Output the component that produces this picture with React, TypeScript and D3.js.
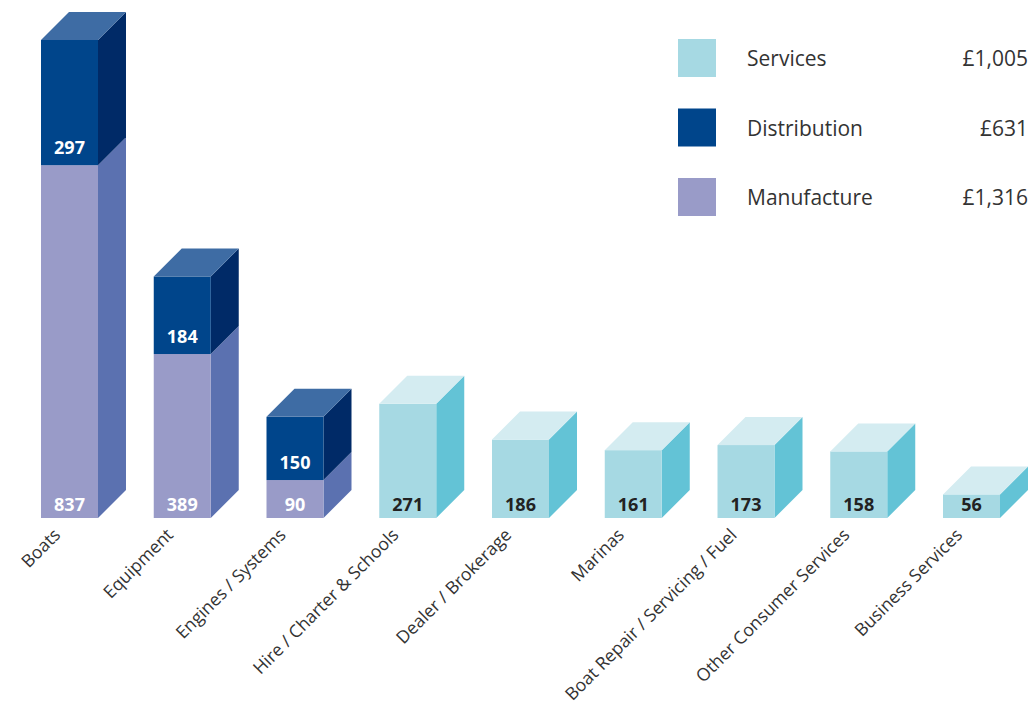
import React, { useEffect, useRef } from 'react';
import * as d3 from 'd3';

const categories = [
    'Boats',
    'Equipment',
    'Engines / Systems',
    'Hire / Charter & Schools',
    'Dealer / Brokerage',
    'Marinas',
    'Boat Repair / Servicing / Fuel',
    'Other Consumer Services',
    'Business Services',
];
const manufacture = [837, 389, 90, 0, 0, 0, 0, 0, 0];
const distribution = [297, 184, 150, 0, 0, 0, 0, 0, 0];
const services = [0, 0, 0, 271, 186, 161, 173, 158, 56];

const seriesKeys = ['manufacture', 'distribution', 'services'];
const legendOrder = ['services', 'distribution', 'manufacture'];
const legendNames: Record<string, string> = {
    services: 'Services',
    distribution: 'Distribution',
    manufacture: 'Manufacture',
};

const palette: Record<string, { front: string; side: string; top: string; text: string }> = {
    manufacture: { front: '#999bc8', side: '#5b71b0', top: '#8d94c4', text: '#ffffff' },
    distribution: { front: '#00458b', side: '#002a67', top: '#3e6ca4', text: '#ffffff' },
    services: { front: '#a6d9e3', side: '#63c3d6', top: '#d4ecf1', text: '#222222' },
};

const FONT = '"Open Sans", "Noto Sans", sans-serif';

export default function App() {
    const ref = useRef<SVGSVGElement>(null);
    const width = 1031;
    const height = 705;
    const depth = 28;

    useEffect(() => {
        document.body.style.margin = '0';
        drawChart();
        //eslint-disable-next-line
    }, []);

    const drawChart = () => {
        const rows = categories.map((c, i) => ({
            category: c,
            manufacture: manufacture[i],
            distribution: distribution[i],
            services: services[i],
        }));

        const stacked = d3.stack<any>().keys(seriesKeys)(rows);

        const x = d3.scaleBand().domain(categories).range([41, 1000]).paddingInner(0.4945).paddingOuter(0);
        const totals = rows.map(r => r.manufacture + r.distribution + r.services);
        const y = d3.scaleLinear().domain([0, d3.max(totals) as number]).range([518, 40]);

        const svg = d3.select(ref.current);
        svg.selectAll('*').remove();

        const g = svg.append('g');

        categories.forEach((cat, i) => {
            const x0 = x(cat) as number;
            const x1 = x0 + x.bandwidth();
            // top-most non-empty series for this bar
            let topKey = '';
            stacked.forEach(s => {
                if (s[i][1] - s[i][0] > 0) topKey = s.key;
            });
            stacked.forEach(s => {
                const v = s[i][1] - s[i][0];
                if (v <= 0) return;
                const col = palette[s.key];
                const yb = y(s[i][0]);
                const yt = y(s[i][1]);

                // side face
                g.append('path')
                    .attr('d', `M${x1},${yb}L${x1 + depth},${yb - depth}L${x1 + depth},${yt - depth}L${x1},${yt}Z`)
                    .attr('fill', col.side);

                // front face
                g.append('rect')
                    .attr('x', x0)
                    .attr('y', yt)
                    .attr('width', x1 - x0)
                    .attr('height', yb - yt)
                    .attr('fill', col.front);

                // top face
                if (s.key === topKey) {
                    g.append('path')
                        .attr('d', `M${x0},${yt}L${x0 + depth},${yt - depth}L${x1 + depth},${yt - depth}L${x1},${yt}Z`)
                        .attr('fill', col.top);
                }

                // value label
                g.append('text')
                    .attr('x', (x0 + x1) / 2)
                    .attr('y', yb - (s[i][0] > 0 ? 11 : 7))
                    .attr('text-anchor', 'middle')
                    .attr('font-family', FONT)
                    .attr('font-weight', 700)
                    .attr('font-size', 18)
                    .attr('fill', col.text)
                    .text(v);
            });

            // category label
            const lx = (x0 + x1) / 2 - 8;
            const ly = 536;
            g.append('text')
                .attr('transform', `translate(${lx},${ly}) rotate(-45)`)
                .attr('text-anchor', 'end')
                .attr('font-family', FONT)
                .attr('font-size', 17.6)
                .attr('fill', '#333333')
                .text(cat);
        });

        // legend
        const fmt = d3.format(',');
        const seriesData: Record<string, number[]> = { manufacture, distribution, services };
        const legend = svg.append('g');
        legendOrder.forEach((key, i) => {
            const ty = 39 + i * 69.5;
            legend.append('rect')
                .attr('x', 678)
                .attr('y', ty)
                .attr('width', 38)
                .attr('height', 38)
                .attr('fill', palette[key].front);
            legend.append('text')
                .attr('x', 747)
                .attr('y', ty + 27)
                .attr('font-family', FONT)
                .attr('font-size', 21)
                .attr('fill', '#333333')
                .text(legendNames[key]);
            legend.append('text')
                .attr('x', 1028)
                .attr('y', ty + 27)
                .attr('text-anchor', 'end')
                .attr('font-family', FONT)
                .attr('font-size', 21)
                .attr('fill', '#333333')
                .text('£' + fmt(d3.sum(seriesData[key])));
        });
    };

    return <svg ref={ref} width={width} height={height} style={{ display: 'block' }}></svg>;
}
